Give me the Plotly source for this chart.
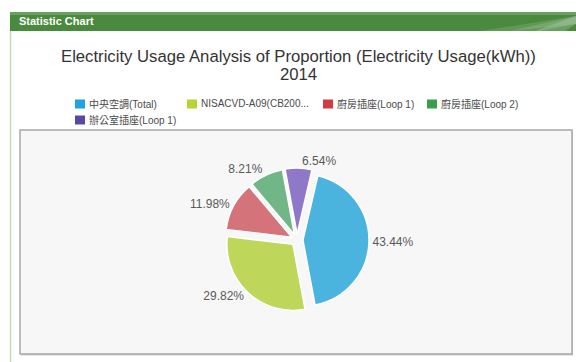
import plotly.graph_objects as go

W, H = 576, 362

categories = ["中央空調(Total)", "NISACVD-A09(CB200...", "廚房插座(Loop 1)", "廚房插座(Loop 2)", "辦公室插座(Loop 1)"]
shares = [43.44, 29.82, 11.98, 8.21, 6.54]
slice_colors = ["#4ab3de", "#bed65a", "#d4737a", "#70b687", "#9078c8"]
legend_colors = ["#1da3df", "#b7d433", "#d03c40", "#3b9e4b", "#5b47a8"]
title_lines = ["Electricity Usage Analysis of Proportion (Electricity Usage(kWh))", "2014"]
header_text = "Statistic Chart"

def px(x):
    return x / W

def py(y):
    return 1 - y / H

cx, cy, half = 297, 240, 72

fig = go.Figure()
fig.add_trace(go.Pie(
    labels=categories,
    values=shares,
    sort=False,
    direction="clockwise",
    rotation=13,
    pull=[0.09] * len(shares),
    marker=dict(colors=slice_colors, line=dict(color="#ffffff", width=1.5)),
    texttemplate="%{percent:.2%}",
    textposition="outside",
    outsidetextfont=dict(family="Arial, Liberation Sans, sans-serif", size=12, color="#5a5a5a"),
    domain=dict(x=[px(cx - half), px(cx + half)], y=[py(cy + half), py(cy - half)]),
    showlegend=False,
    hoverinfo="label+percent",
))

shapes = []
# outer panel left border
shapes.append(dict(type="line", xref="paper", yref="paper", x0=px(10.5), x1=px(10.5), y0=py(30), y1=py(362),
                   line=dict(color="#c3dbbd", width=1.5), layer="below"))
# header bar
shapes.append(dict(type="rect", xref="paper", yref="paper", x0=px(10), x1=px(576), y0=py(31), y1=py(12),
                   fillcolor="#4a8a3e", line=dict(width=0), layer="below"))
shapes.append(dict(type="rect", xref="paper", yref="paper", x0=px(10), x1=px(576), y0=py(15), y1=py(12),
                   fillcolor="#6aa25d", line=dict(width=0), layer="below"))
# swoosh on right of header
for (a, b, op) in [(480, 576, 0.12), (510, 576, 0.15), (535, 576, 0.18)]:
    shapes.append(dict(type="path", xref="paper", yref="paper",
                       path=f"M {px(a)},{py(31)} L {px(b)},{py(16)} L {px(b)},{py(24)} L {px(a+30)},{py(31)} Z",
                       fillcolor="#ffffff", opacity=op, line=dict(width=0), layer="below"))
# plot box shadow and box
shapes.append(dict(type="rect", xref="paper", yref="paper", x0=px(21), x1=px(573), y0=py(355.5), y1=py(131),
                   fillcolor="#cfcfcf", line=dict(width=0), layer="below"))
shapes.append(dict(type="rect", xref="paper", yref="paper", x0=px(20), x1=px(572), y0=py(354), y1=py(130),
                   fillcolor="#f7f7f7", line=dict(color="#a8a8a8", width=1.5), layer="below"))

annotations = []
annotations.append(dict(text=f"<b>{header_text}</b>", xref="paper", yref="paper", x=px(17), y=py(21.5),
                        xanchor="left", yanchor="middle", showarrow=False,
                        font=dict(family="Arial, Liberation Sans, sans-serif", size=11, color="#ffffff")))
annotations.append(dict(text=title_lines[0], xref="paper", yref="paper", x=px(298), y=py(56),
                        xanchor="center", yanchor="middle", showarrow=False,
                        font=dict(family="Arial, Liberation Sans, sans-serif", size=16.7, color="#333333")))
annotations.append(dict(text=title_lines[1], xref="paper", yref="paper", x=px(298), y=py(75),
                        xanchor="center", yanchor="middle", showarrow=False,
                        font=dict(family="Arial, Liberation Sans, sans-serif", size=16.7, color="#333333")))

# legend (manual, Highcharts-like layout)
legend_pos = [(75, 104), (187, 104), (323, 104), (427, 104), (75, 120)]
for name, col, (lx, ly) in zip(categories, legend_colors, legend_pos):
    shapes.append(dict(type="rect", xref="paper", yref="paper", x0=px(lx), x1=px(lx + 10), y0=py(ly + 4.5), y1=py(ly - 4.5),
                       fillcolor=col, line=dict(width=0)))
    annotations.append(dict(text=name, xref="paper", yref="paper", x=px(lx + 12), y=py(ly),
                            xanchor="left", yanchor="middle", showarrow=False,
                            font=dict(family="Arial, Noto Sans CJK TC, sans-serif", size=10, color="#4a4a4a")))

fig.update_layout(
    width=W, height=H,
    margin=dict(l=0, r=0, t=0, b=0),
    paper_bgcolor="#ffffff",
    plot_bgcolor="#ffffff",
    shapes=shapes,
    annotations=annotations,
)

fig.write_html("out.html")
